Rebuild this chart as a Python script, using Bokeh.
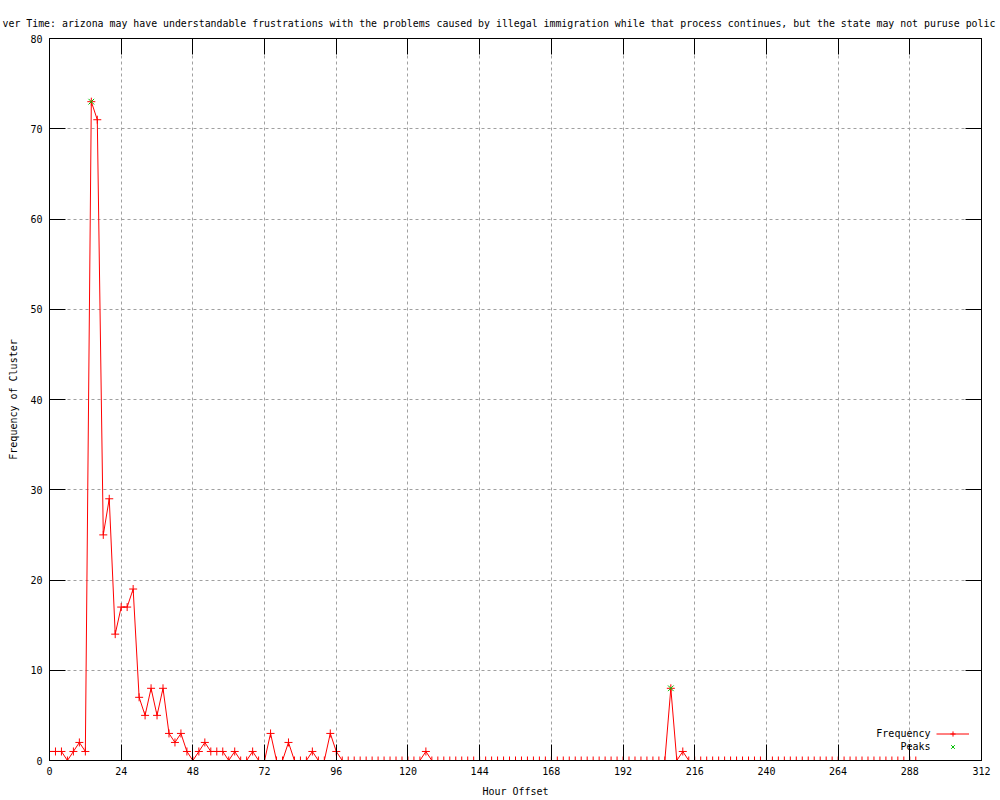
from bokeh.plotting import figure
from bokeh.models import (Range1d, FixedTicker, LinearAxis, Label, Legend, LegendItem,
                          CustomJSTickFormatter)
from bokeh.embed import file_html
from bokeh.resources import INLINE

# ---- data ----
hours = list(range(0, 291, 2))
freq = [
    1, 1, 1, 0, 1, 2, 1, 73, 71, 25,      # 0-18
    29, 14, 17, 17, 19, 7, 5, 8, 5, 8,    # 20-38
    3, 2, 3, 1, 0, 1, 2, 1, 1, 1,         # 40-58
    0, 1, 0, 0, 1, 0, 0, 3, 0, 0,         # 60-78
    2, 0, 0, 0, 1, 0, 0, 3, 1, 0,         # 80-98
    0, 0, 0, 0, 0, 0, 0, 0, 0, 0,         # 100-118
    0, 0, 0, 1, 0, 0, 0, 0, 0, 0,         # 120-138
    0, 0, 0, 0, 0, 0, 0, 0, 0, 0,         # 140-158
    0, 0, 0, 0, 0, 0, 0, 0, 0, 0,         # 160-178
    0, 0, 0, 0, 0, 0, 0, 0, 0, 0,         # 180-198
    0, 0, 0, 0, 8, 0, 1, 0, 0, 0,         # 200-218
    0, 0, 0, 0, 0, 0, 0, 0, 0, 0,         # 220-238
    0, 0, 0, 0, 0, 0, 0, 0, 0, 0,         # 240-258
    0, 0, 0, 0, 0, 0, 0, 0, 0, 0,         # 260-278
    0, 0, 0, 0, 0, 0,                     # 280-290
]
peak_hours = [14, 208]
peak_vals = [73, 8]
x_ticks = [0, 24, 48, 72, 96, 120, 144, 168, 192, 216, 240, 264, 288, 312]
y_ticks = [0, 10, 20, 30, 40, 50, 60, 70, 80]
title_text = ("ver Time: arizona may have understandable frustrations with the problems "
              "caused by illegal immigration while that process continues, but the state "
              "may not puruse polic")
x_label = "Hour Offset"
y_label = "Frequency of Cluster"
series_names = ["Frequency", "Peaks"]

FONT = "DejaVu Sans Mono"
FS = "10px"
GRID = "#a0a0a0"

p = figure(width=1000, height=800, title=title_text,
           x_range=Range1d(0, 312), y_range=Range1d(0, 80),
           output_backend="svg", toolbar_location=None,
           min_border_left=49, min_border_right=19, min_border_top=38, min_border_bottom=40)
p.background_fill_color = "white"
p.border_fill_color = "white"
p.outline_line_color = "black"
p.outline_line_width = 1

p.title.align = "left"
p.title.offset = -47
p.title.text_font = FONT
p.title.text_font_size = "9.9px"
p.title.text_font_style = "normal"
p.title.text_color = "black"
p.title.standoff = 19

xt = FixedTicker(ticks=x_ticks)
yt = FixedTicker(ticks=y_ticks)

for ax, t in ((p.xaxis[0], xt), (p.yaxis[0], yt)):
    ax.ticker = t
    ax.major_tick_in = 16
    ax.major_tick_out = 0
    ax.minor_tick_in = 0
    ax.minor_tick_out = 0
    ax.axis_line_color = "black"
    ax.major_tick_line_color = "black"
    ax.major_label_text_font = FONT
    ax.major_label_text_font_size = FS
    ax.major_label_text_color = "black"
    ax.axis_label_text_font = FONT
    ax.axis_label_text_font_size = FS
    ax.axis_label_text_font_style = "normal"
    ax.axis_label_text_color = "black"

p.xaxis[0].axis_label = x_label
p.xaxis[0].major_label_standoff = 6
p.xaxis[0].axis_label_standoff = 8
p.yaxis[0].axis_label = y_label
p.yaxis[0].major_label_standoff = 7
p.yaxis[0].axis_label_standoff = 8

for loc, t in (("right", yt), ("above", xt)):
    ax = LinearAxis(ticker=t, formatter=CustomJSTickFormatter(code="return ''"),
                    major_tick_in=16, major_tick_out=0, minor_tick_in=0, minor_tick_out=0,
                    axis_line_color="black", major_tick_line_color="black",
                    major_label_standoff=0)
    p.add_layout(ax, loc)

p.xgrid.ticker = xt
p.ygrid.ticker = yt
for g in (p.xgrid[0], p.ygrid[0]):
    g.grid_line_color = GRID
    g.grid_line_dash = "3 3"
    g.grid_line_width = 1

r_line = p.line(hours, freq, line_color="#ff0000", line_width=1)
r_cross = p.scatter(hours, freq, marker="cross", size=8, line_color="#ff0000", line_width=1)
r_peak = p.scatter(peak_hours, peak_vals, marker="x", size=8, line_color="#00c000", line_width=1)

legend = Legend(items=[LegendItem(label=" ", renderers=[r_line, r_cross]),
                       LegendItem(label=" ", renderers=[r_peak])],
                location=(887, 7), glyph_width=33, glyph_height=13, label_height=13,
                spacing=0, padding=0, margin=0, border_line_color=None,
                background_fill_alpha=0, label_standoff=0, label_width=0,
                label_text_font_size="1px")
p.add_layout(legend)

p.add_layout(Label(x=881, y=27, x_units="screen", y_units="screen", text=series_names[0],
                   text_align="right", text_baseline="middle", text_font=FONT,
                   text_font_size=FS, text_color="black"))
p.add_layout(Label(x=881, y=14, x_units="screen", y_units="screen", text=series_names[1],
                   text_align="right", text_baseline="middle", text_font=FONT,
                   text_font_size=FS, text_color="black"))

html = file_html(p, INLINE, title="Frequency over time")
html = html.replace("</head>", "<style>html,body{margin:0;padding:0;overflow:hidden}</style></head>", 1)
open("out.html", "w").write(html)
